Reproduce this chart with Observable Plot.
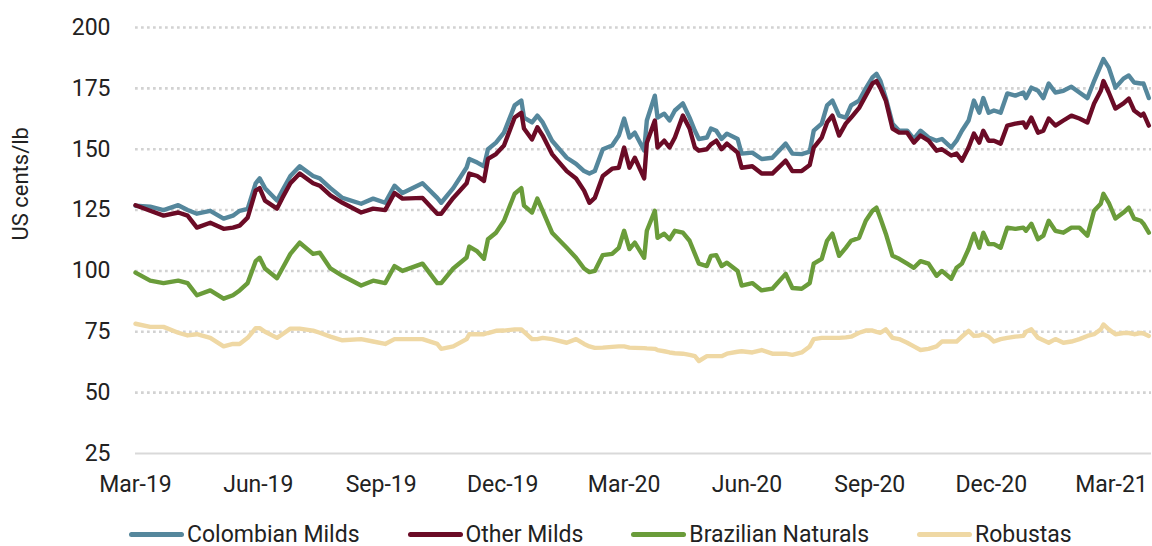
<!DOCTYPE html>
<html><head><meta charset="utf-8">
<script src="https://cdn.jsdelivr.net/npm/d3@7"></script>
<script src="https://cdn.jsdelivr.net/npm/@observablehq/plot@0.6"></script>
<style>
body{margin:0;background:#fff;font-family:Roboto,"Noto Sans",sans-serif;}
#legend{display:flex;align-items:center;padding-left:129px;padding-top:18px;height:23px;line-height:28px;font-size:23px;color:#222;}
.item{display:flex;align-items:center;margin-right:48px;white-space:nowrap;}
.sw{width:55px;height:5px;margin-right:3px;border-radius:2.5px;}
</style></head><body>
<div id="chart"></div><div id="legend"></div>
<script>
const dates = ["2019-03-01","2019-03-12","2019-03-22","2019-04-02","2019-04-09","2019-04-16","2019-04-26","2019-05-06","2019-05-13","2019-05-18","2019-05-24","2019-05-30","2019-06-02","2019-06-06","2019-06-15","2019-06-19","2019-06-25","2019-07-02","2019-07-12","2019-07-17","2019-07-25","2019-08-03","2019-08-17","2019-08-26","2019-09-04","2019-09-11","2019-09-17","2019-10-02","2019-10-13","2019-10-16","2019-10-25","2019-11-04","2019-11-06","2019-11-12","2019-11-17","2019-11-20","2019-11-26","2019-12-02","2019-12-10","2019-12-15","2019-12-17","2019-12-23","2019-12-27","2019-12-31","2020-01-07","2020-01-18","2020-01-25","2020-01-31","2020-02-04","2020-02-08","2020-02-14","2020-02-21","2020-02-26","2020-03-01","2020-03-05","2020-03-09","2020-03-16","2020-03-18","2020-03-24","2020-03-26","2020-03-31","2020-04-04","2020-04-08","2020-04-14","2020-04-19","2020-04-23","2020-04-26","2020-05-02","2020-05-05","2020-05-09","2020-05-13","2020-05-17","2020-05-25","2020-05-28","2020-06-05","2020-06-12","2020-06-20","2020-06-30","2020-07-05","2020-07-12","2020-07-18","2020-07-21","2020-07-27","2020-07-31","2020-08-04","2020-08-09","2020-08-14","2020-08-18","2020-08-24","2020-08-29","2020-09-03","2020-09-06","2020-09-09","2020-09-13","2020-09-18","2020-09-23","2020-09-29","2020-10-04","2020-10-09","2020-10-15","2020-10-21","2020-10-25","2020-11-01","2020-11-05","2020-11-09","2020-11-14","2020-11-18","2020-11-22","2020-11-25","2020-11-29","2020-12-03","2020-12-08","2020-12-13","2020-12-19","2020-12-25","2020-12-27","2020-12-31","2021-01-05","2021-01-09","2021-01-13","2021-01-18","2021-01-24","2021-01-30","2021-02-05","2021-02-11","2021-02-16","2021-02-21","2021-02-23","2021-02-27","2021-03-04","2021-03-10","2021-03-14","2021-03-18","2021-03-23","2021-03-25","2021-03-29"];

const colombianMilds = [126.8,126.4,125,127,125,123.5,124.7,121.5,122.7,124.7,125.5,136,138,134,128.9,133,139,143,139,138,134,130,127.6,129.7,128,135,132,136,130,128,134,142.5,146,144.5,143,150,152.7,156.8,168,170,163,161,163.8,161,153.5,146.5,144,141,140,141,150,151.5,155.6,162.6,154.8,156.8,149.5,161.8,172,163,164.6,161.8,165.9,168.8,163,157.6,154.2,154.8,158.5,157.6,154.2,156.4,154.2,148.2,148.6,146,146.5,152.3,148.2,148,149,157.6,160.5,168,170,163.8,163,168,170,175,179.5,181,178,171,160.5,157.6,157.6,154.2,157.6,154.8,153.5,154.2,150.7,153.5,157.6,161.8,170,165,171,165,165.9,165,172.9,172,173.3,171,175.3,174,171,177,173.3,174,175.7,173.3,171,178,184.4,187,183.5,175.3,179,180.3,177.4,177,177,171];

const otherMilds = [127,124.7,122.7,124,122.7,117.8,119.8,117.3,117.8,118.6,121.9,133,134,128.9,125.6,130,136,140,136,135,131,128,124,125.6,125,132,129.7,130,123.5,123.5,130,136,140,139,137,146,148,151.5,163,165,158.5,154,159,155.6,148,141,138,133,128,130,139,142,142.4,150.7,142.4,146.5,138,152.7,161.8,150.7,153.5,150.7,154.8,163.8,158.5,150.7,149.4,150,152,153.5,150,152.3,148.6,142.4,143,140,140,145.3,141,141,143.5,150.7,154.8,161,163.8,155.6,160.5,163,167,172,177,178,175,170,158.5,156.8,156.8,152.7,155.6,153.5,149.4,150,147.4,148.2,145.3,150.7,156.4,152.7,157.6,153.5,153.5,152.3,159.7,160.5,161,158.9,163,156.8,157.6,162.6,159.7,161.8,163.8,162.6,161,168.8,174,178,173.3,166.7,168.8,170.8,165.9,163.8,164.6,159.7];

const brazilianNaturals = [99.3,96,95,96,95,90,92,88.6,90,92,95,104,105.4,101,97,101,107,111.6,107,107.5,101,98,94,96,95,102,100,103,95,95,101,105.5,110,108,105,113,115.7,120.6,131.7,134,126.8,124,129.7,124.7,115.7,109.5,105.4,101,99.5,100,106.5,107,109.5,116.5,109,111.6,105.4,116.5,124.7,113.6,115.3,113,116.5,115.7,112.4,107,103,102,106.2,106.5,102,103.4,100,94,95,92,92.7,98.8,93,92.7,95,103,105,112.4,115.3,106.2,109.5,112.4,113.6,120.6,124.7,126,121.5,115.3,106.2,105,103,101.3,104,103,98,100,96.8,101.3,103,109,115.3,109.5,115.7,111,111,109.5,117.8,117.3,117.8,116.5,119.4,113,114.5,120.6,116.5,115.7,117.8,117.8,114.5,124.7,127.6,131.7,128,121.5,124,126,121.5,120.6,119.4,115.7];

const robustas = [78.3,77,77,74.6,73.5,74,72.5,69,70,70,72.5,76.5,76.5,75,72.5,74,76.3,76.3,75.5,74.6,73,71.5,72,71,70,72,72,72,70,68,69,72,74,74,74,74.5,75.4,75.5,76,76,75,72,72,72.5,72,70.5,72,70,69,68.4,68.5,68.8,69,69,68.5,68.4,68.3,68.2,68,67.5,67,66.5,66.2,66,65.5,65,63,65,65,65,65,66,66.8,67,66.5,67.5,66,66,65.5,66.5,69,72,72.5,72.5,72.5,72.5,72.7,73,74.6,75.5,75.5,75,74.6,76,72.5,72,70.5,69,67.5,68,69,71,71,71,73,75.4,73.3,73.5,74,73,71,72,72.5,73,73.3,75,76,72.5,71.5,70.5,72,70.5,71,72,73.3,74,76,78,76,74,74.5,74.5,74,74.5,74.3,73.3];

const seriesNames = ["Colombian Milds", "Other Milds", "Brazilian Naturals", "Robustas"];
const seriesColors = ["#55879c", "#6b0b26", "#6a9c3a", "#efd8a4"];
const yTicks = [25, 50, 75, 100, 125, 150, 175, 200];
const xTickDates = ["2019-03-01","2019-06-01","2019-09-01","2019-12-01","2020-03-01","2020-06-01","2020-09-01","2020-12-01","2021-03-01"];
const xDomain = ["2019-03-01", "2021-03-31"];
const yTitle = "US cents/lb";

const parse = d3.utcParse("%Y-%m-%d");
const seriesValues = [colombianMilds, otherMilds, brazilianNaturals, robustas];
const rows = [];
seriesValues.forEach((vals, i) => {
  vals.forEach((v, j) => rows.push({date: parse(dates[j]), value: v, series: seriesNames[i]}));
});

const chart = Plot.plot({
  width: 1152,
  height: 505,
  marginLeft: 135,
  marginRight: 1,
  marginTop: 27,
  marginBottom: 52,
  style: {fontFamily: 'Roboto, "Noto Sans", sans-serif', fontSize: "23px", color: "#222", background: "#fff", overflow: "visible"},
  x: {type: "utc", domain: xDomain.map(parse), ticks: xTickDates.map(parse), tickFormat: d3.utcFormat("%b-%y"), tickSize: 0, tickPadding: 22, label: null},
  y: {domain: [25, 200], ticks: yTicks, tickSize: 0, tickPadding: 25, label: null},
  color: {domain: seriesNames, range: seriesColors},
  marks: [
    Plot.ruleY(yTicks.filter(d => d > yTicks[0]), {stroke: "#d2d2d2", strokeWidth: 2.6, strokeDasharray: "2.7,3.3"}),
    Plot.ruleY([yTicks[0]], {stroke: "#d9d9d9", strokeWidth: 2}),
    ...seriesNames.map(name => Plot.line(rows.filter(r => r.series === name), {
      x: "date", y: "value", stroke: "series", strokeWidth: 4.4, strokeLinejoin: "round", strokeLinecap: "round"
    })),
    Plot.text([yTitle], {frameAnchor: "left", dx: -115, rotate: -90, fontSize: 22, fill: "#222"})
  ]
});
document.getElementById("chart").appendChild(chart);

const legend = document.getElementById("legend");
seriesNames.forEach((name, i) => {
  const item = document.createElement("div");
  item.className = "item";
  const sw = document.createElement("span");
  sw.className = "sw";
  sw.style.background = seriesColors[i];
  const label = document.createElement("span");
  label.textContent = name;
  item.appendChild(sw);
  item.appendChild(label);
  legend.appendChild(item);
});
</script>
</body></html>
